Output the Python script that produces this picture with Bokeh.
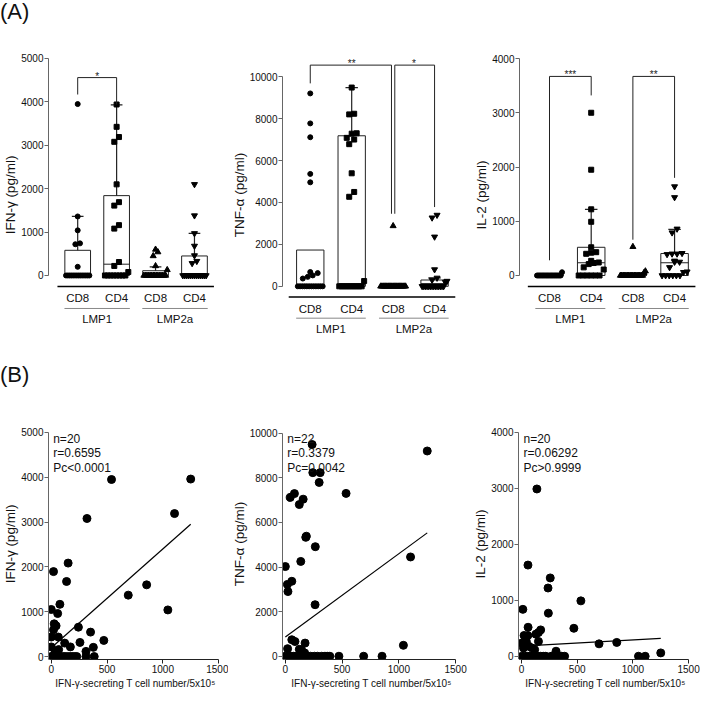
import numpy as np
from bokeh.plotting import figure
from bokeh.models import Range1d, FixedTicker, Div
from bokeh.layouts import column, row
from bokeh.embed import file_html
from bokeh.resources import INLINE
from bokeh.core.properties import value

FONT = "Liberation Sans"

# ---------------- Panel A data ----------------
cells = ["CD8", "CD4", "CD8", "CD4"]
antigens = ["LMP1", "LMP2a"]
group_markers = ["circle", "square", "triangle", "inverted_triangle"]
group_sizes = [5, 5, 6, 6]

# IFN-gamma (pg/ml)
ifn_cd8_lmp1 = [3950, 1360, 1040, 740, 720, 200] + [0] * 14
ifn_cd4_lmp1 = [3940, 3425, 3190, 3080, 2100, 1690, 1610, 1160, 1080, 310, 220, 80] + [0] * 8
ifn_cd8_lmp2a = [600, 540, 450, 220, 130] + [0] * 15
ifn_cd4_lmp2a = [2100, 1380, 970, 680, 460, 330, 280] + [0] * 13
ifn_q3 = [580, 1840, 110, 450]
ifn_median = [0, 260, 0, 0]
ifn_whisker = [1360, 3930, 200, 970]
ifn_brackets = [(1, 2, 4560, 4170, 3940, "*")]

# TNF-alpha (pg/ml)
tnf_cd8_lmp1 = [9200, 7770, 7110, 5360, 4960, 680, 630, 520, 450, 370] + [0] * 12
tnf_cd4_lmp1 = [9480, 8230, 8200, 7300, 7280, 7080, 7000, 6780, 5390, 4500, 4270, 250] + [0] * 10
tnf_cd8_lmp2a = [2880] + [0] * 21
tnf_cd4_lmp2a = [3400, 3270, 2360, 800, 400, 300, 250, 200] + [0] * 14
tnf_q3 = [1730, 7180, 0, 300]
tnf_median = [0, 100, 0, 130]
tnf_whisker = [1730, 9480, 0, 400]
tnf_brackets = [(1, 3, 10550, 9680, 3460, "**"), (3, 4, 10550, 3460, 3780, "*")]

# IL-2 (pg/ml)
il2_cd8_lmp1 = [60] + [0] * 19
il2_cd4_lmp1 = [3000, 1950, 1220, 990, 520, 430, 420, 400, 270, 240, 230, 210, 150, 110] + [0] * 6
il2_cd8_lmp2a = [530, 80, 50] + [0] * 17
il2_cd4_lmp2a = [1640, 1440, 860, 790, 410, 400, 400, 390, 270, 250, 250, 150, 70, 60] + [0] * 6
il2_q3 = [0, 520, 0, 405]
il2_median = [0, 235, 0, 235]
il2_whisker = [0, 1220, 0, 850]
il2_brackets = [(1, 2, 3670, 280, 3320, "***"), (3, 4, 3670, 660, 1800, "**")]

# ---------------- Panel B data ----------------
b1_x = [540, 1250, 1105, 320, 151, 20, 137, 855, 690, 1045, 77, 0, 57, 26, 43, 20, 243, 352, 0, 63,
        471, 257, 120, 171, 377, 0, 66, 311, 30,
        0, 20, 43, 66, 89, 114, 137, 163, 186, 208, 228, 311, 385]
b1_y = [3950, 3960, 3190, 3080, 2085, 1895, 1675, 1600, 1370, 1040, 1165, 1050, 960, 730, 685, 595, 655, 545, 435, 435,
        360, 315, 300, 215, 205, 215, 155, 115, 60,
        0, 0, 0, 0, 0, 0, 0, 0, 0, 0, 0, 0, 0]
b1_fit_x = [0, 1250]
b1_fit_y = [196, 2950]
b1_stats = ["n=20", "r=0.6595", "Pc<0.0001"]

b2_x = [236, 1250, 242, 307, 298, 535, 80, 43, 157, 123, 185, 180, 264, 1103, 136, 0, 57, 18, 23, 262,
        57, 85, 174, 1040, 20, 142, 170, 123,
        0, 28, 51, 74, 102, 136, 165, 193, 222, 256, 284, 321, 349, 369, 392, 472, 690, 852]
b2_y = [9490, 9200, 8230, 8230, 7790, 7300, 7290, 7120, 7040, 6800, 5380, 5330, 4910, 4450, 4250, 4020, 3360, 3220, 2900, 2310,
        740, 660, 590, 490, 340, 295, 150, 310,
        0, 0, 0, 0, 0, 0, 0, 0, 0, 0, 0, 0, 0, 0, 0, 0, 0, 0]
b2_fit_x = [0, 1250]
b2_fit_y = [860, 5530]
b2_stats = ["n=22", "r=0.3379", "Pc=0.0042"]

b3_x = [138, 58, 258, 238, 533, 12, 241, 59, 172, 470, 696, 855, 1250, 129, 152, 23, 57, 3, 43, 152,
        66, 95, 118, 18, 310,
        1050, 1110, 3, 29, 57, 86, 115, 143, 172, 195, 218, 267, 287, 310, 338, 361, 387]
b3_y = [2990, 1630, 1400, 1220, 990, 838, 770, 518, 471, 500, 222, 247, 60, 395, 424, 371, 371, 236, 265, 265,
        177, 147, 118, 147, 90,
        0, 0, 0, 0, 0, 0, 0, 0, 0, 0, 0, 0, 0, 0, 0, 0, 0]
b3_fit_x = [0, 1250]
b3_fit_y = [180, 320]
b3_stats = ["n=20", "r=0.06292", "Pc>0.9999"]

b_xticks = [0, 500, 1000, 1500]
b_xlabel = "IFN-\u03b3-secreting T cell number/5x10\u2075"


# ---------------- helpers ----------------
def base_fig(width, height, xr, yr, ml, mr, mt, mb):
    p = figure(width=width, height=height, x_range=Range1d(*xr), y_range=Range1d(*yr),
               output_backend="svg", toolbar_location=None,
               min_border_left=ml, min_border_right=mr, min_border_top=mt, min_border_bottom=mb)
    p.outline_line_color = None
    p.xgrid.visible = False
    p.ygrid.visible = False
    return p


def style_axis(ax, ticks, label, label_size="13.5px", color="#666666"):
    ax.ticker = FixedTicker(ticks=ticks)
    ax.bounds = (0, ticks[-1])
    ax.axis_label = label
    ax.axis_label_text_font = FONT
    ax.axis_label_text_font_size = label_size
    ax.axis_label_text_font_style = "normal"
    ax.axis_label_text_color = "#111111"
    ax.axis_label_standoff = 0
    ax.major_label_text_font = FONT
    ax.major_label_text_font_size = "10px"
    ax.major_label_text_color = "#111111"
    ax.major_label_standoff = 1
    ax.major_tick_out = 4
    ax.major_tick_in = 0
    ax.minor_tick_line_color = None
    ax.axis_line_color = color
    ax.major_tick_line_color = color


def swarm(vals, center, tol):
    vals = np.asarray(vals, float)
    order = np.argsort(vals, kind="stable")
    xs = np.zeros(len(vals))
    clusters, cur = [], [order[0]]
    for i in order[1:]:
        if vals[i] - vals[cur[0]] <= tol:
            cur.append(i)
        else:
            clusters.append(cur)
            cur = [i]
    clusters.append(cur)
    for c in clusters:
        n = len(c)
        half = min(0.3, (n - 1) * 0.06)
        offs = np.linspace(-half, half, n) if n > 1 else [0.0]
        for k, i in enumerate(c):
            xs[i] = center + offs[k]
    return xs


def box_panel(groups, q3, med, whisk, brackets, ylabel, yticks, yr, xr, width, ml, mr, mt):
    H = 312
    mb = 5
    p = base_fig(width, H, xr, yr, ml, mr, mt, mb)
    p.xaxis.visible = False
    style_axis(p.yaxis[0], yticks, ylabel)
    ppu = (H - mt - mb) / (yr[1] - yr[0])

    def off(px):
        return -px / ppu

    xc = np.arange(1, len(groups) + 1, dtype=float)
    hw = 0.33
    p.quad(left=xc - hw, right=xc + hw, bottom=[0] * len(xc), top=q3,
           fill_color=None, line_color="#222222", line_width=1)
    p.segment(x0=xc - hw, x1=xc + hw, y0=med, y1=med, line_color="#222222", line_width=1)
    for i in range(len(xc)):
        if whisk[i] > q3[i]:
            p.segment(x0=[xc[i], xc[i] - 0.15], x1=[xc[i], xc[i] + 0.15],
                      y0=[q3[i], whisk[i]], y1=[whisk[i], whisk[i]],
                      line_color="#222222", line_width=1.2)
    tol = 6 / ppu
    for i, vals in enumerate(groups):
        p.scatter(x=swarm(vals, xc[i], tol), y=vals, marker=group_markers[i],
                  size=group_sizes[i], color="black")

    ends = [b[0] for b in brackets] + [b[1] for b in brackets]
    for (a, b, top, ya, yb, lab) in brackets:
        xa = a + (0.04 if ends.count(a) > 1 else 0)
        xb = b - (0.04 if ends.count(b) > 1 else 0)
        p.line(x=[xa, xa, xb, xb], y=[ya, top, top, yb], line_color="#222222", line_width=1)
        p.text(x=[(a + b) / 2], y=[top - off(1.5)], text=[lab], text_align="center",
               text_baseline="alphabetic", text_font=value(FONT), text_font_size="10px",
               text_color="#222222")

    # category axis drawn inside the frame, below zero
    p.segment(x0=[0.48], x1=[4.5], y0=[off(11)], y1=[off(11)], line_color="black", line_width=1.5)
    p.text(x=xc, y=[off(23)] * 4, text=cells, text_align="center", text_baseline="middle",
           text_font=value(FONT), text_font_size="11.5px", text_color="#111111")
    p.segment(x0=[0.66, 2.66], x1=[2.34, 4.34], y0=[off(33)] * 2, y1=[off(33)] * 2,
              line_color="#888888", line_width=1)
    p.text(x=[1.5, 3.5], y=[off(44)] * 2, text=antigens, text_align="center", text_baseline="middle",
           text_font=value(FONT), text_font_size="11.5px", text_color="#111111")
    return p


def scatter_panel(xs, ys, fit_x, fit_y, stats, ylabel, yticks, yr, xr, width, ml, mr):
    H = 301
    mt, mb = 38, 29
    p = base_fig(width, H, xr, yr, ml, mr, mt, mb)
    style_axis(p.yaxis[0], yticks, ylabel)
    style_axis(p.xaxis[0], b_xticks, b_xlabel, label_size="10px", color="#222222")
    p.xaxis[0].major_label_standoff = 1
    p.xaxis[0].axis_label_standoff = 2
    p.scatter(x=xs, y=ys, size=8, color="black")
    p.line(x=fit_x, y=fit_y, line_color="black", line_width=1.2)
    ppu_y = (H - mt - mb) / (yr[1] - yr[0])
    fw = width - ml - mr
    ppu_x = fw / (xr[1] - xr[0])
    ty = [yr[1] - o / ppu_y for o in (11, 25, 40)]
    p.text(x=[2 / ppu_x] * 3, y=ty, text=stats, text_align="left", text_baseline="middle",
           text_font=value(FONT), text_font_size="12px", text_color="#111111")
    return p


# ---------------- build panels ----------------
a1 = box_panel([ifn_cd8_lmp1, ifn_cd4_lmp1, ifn_cd8_lmp2a, ifn_cd4_lmp2a], ifn_q3, ifn_median, ifn_whisker,
               ifn_brackets, "IFN-\u03b3 (pg/ml)", [0, 1000, 2000, 3000, 4000, 5000],
               (-1429, 5138), (0.25, 4.72), 228, 40, 6, 22)
a2 = box_panel([tnf_cd8_lmp1, tnf_cd4_lmp1, tnf_cd8_lmp2a, tnf_cd4_lmp2a], tnf_q3, tnf_median, tnf_whisker,
               tnf_brackets, "TNF-\u03b1 (pg/ml)", [0, 2000, 4000, 6000, 8000, 10000],
               (-2442, 11152), (0.33, 4.65), 242, 53, 9, 12)
a3 = box_panel([il2_cd8_lmp1, il2_cd4_lmp1, il2_cd8_lmp2a, il2_cd4_lmp2a], il2_q3, il2_median, il2_whisker,
               il2_brackets, "IL-2 (pg/ml)", [0, 1000, 2000, 3000, 4000],
               (-1143, 4111), (0.28, 4.55), 230, 49, 3, 22)

b1 = scatter_panel(b1_x, b1_y, b1_fit_x, b1_fit_y, b1_stats, "IFN-\u03b3 (pg/ml)",
                   [0, 1000, 2000, 3000, 4000, 5000], (-66, 5088), (-25, 1535), 228, 40, 6)
b2 = scatter_panel(b2_x, b2_y, b2_fit_x, b2_fit_y, b2_stats, "TNF-\u03b1 (pg/ml)",
                   [0, 2000, 4000, 6000, 8000, 10000], (-146, 10208), (-25, 1543), 242, 48, 10)
b3 = scatter_panel(b3_x, b3_y, b3_fit_x, b3_fit_y, b3_stats, "IL-2 (pg/ml)",
                   [0, 1000, 2000, 3000, 4000], (-58, 4071), (-27, 1535), 230, 46, 8)

div_style = {"font-family": "Liberation Sans, Arial, sans-serif", "font-size": "22px",
             "line-height": "24px", "color": "#111111"}
divA = Div(text="(A)", width=700, height=30, margin=(0, 0, 0, 0), styles=div_style)
divB = Div(text="<div style='padding-top:21px'>(B)</div>", width=700, height=48,
           margin=(0, 0, 0, 0), styles=div_style)

layout = column(divA, row(a1, a2, a3), divB, row(b1, b2, b3))

open("out.html", "w").write(file_html(layout, INLINE, "Cytokine panels"))
